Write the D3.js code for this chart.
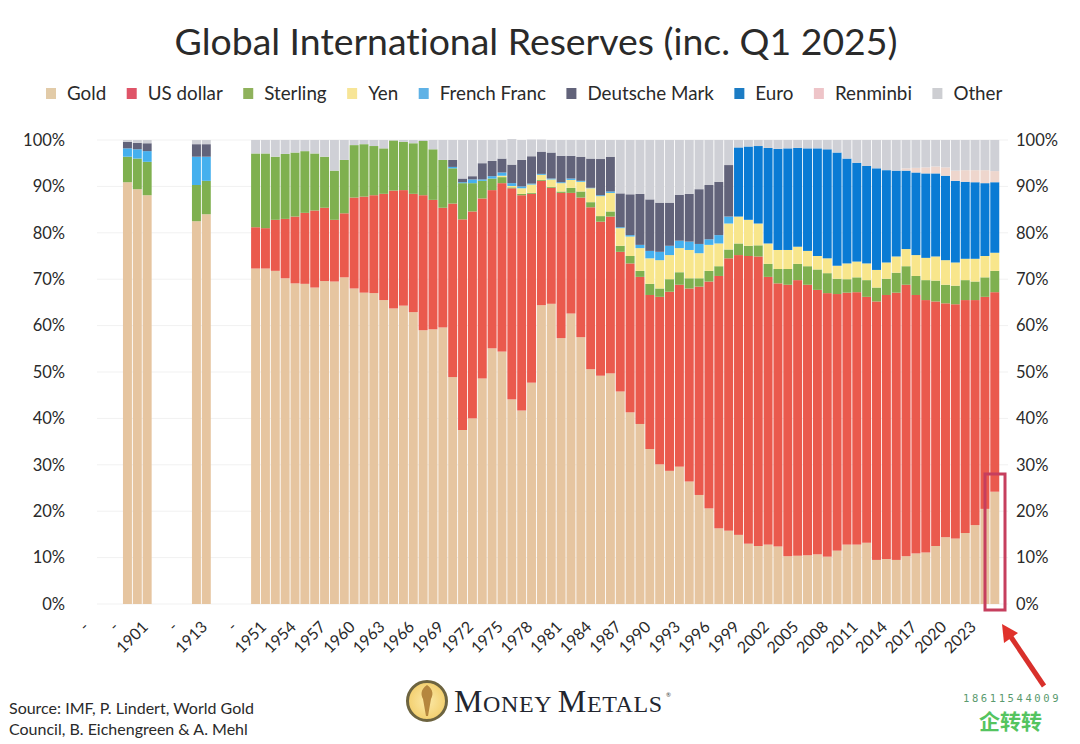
<!DOCTYPE html>
<html>
<head>
<meta charset="utf-8">
<script src="https://cdn.jsdelivr.net/npm/d3@7"></script>
<style>
  html, body { margin: 0; padding: 0; background: #fff; }
  svg { display: block; font-family: Lato, sans-serif; font-variant-ligatures: none; }
</style>
</head>
<body>
<svg id="chart" width="1080" height="744"></svg>
<script>
// empty slots on the axis keep the names gap*, they are labelled "-"
const categories = [
  "gap1","gap2","gap3","gap4","1899","1900","1901","gap5","gap6","gap7","gap8","1912","1913","gap9","gap10","gap11","gap12",
  "1950","1951","1952","1953","1954","1955","1956","1957","1958","1959",
  "1960","1961","1962","1963","1964","1965","1966","1967","1968","1969",
  "1970","1971","1972","1973","1974","1975","1976","1977","1978","1979",
  "1980","1981","1982","1983","1984","1985","1986","1987","1988","1989",
  "1990","1991","1992","1993","1994","1995","1996","1997","1998","1999",
  "2000","2001","2002","2003","2004","2005","2006","2007","2008","2009",
  "2010","2011","2012","2013","2014","2015","2016","2017","2018","2019",
  "2020","2021","2022","2023","2024","2025"
];
const barYears = categories.filter(c => !c.startsWith("gap"));

const gold = [90.9,89.4,88.1,82.5,84,
  72.3,72.3,71.8,70.2,69.1,69,68.2,69.6,69.5,70.4,
  68,67.1,67,65.5,63.7,64.3,62.9,59,59.2,59.6,
  48.9,37.5,40,48.6,55.1,54.4,44.1,41.7,47.7,64.4,
  64.7,57.3,62.6,57.5,50.6,49.2,49.7,45.8,41.3,38.8,
  33.4,30.1,28.7,29.6,26.4,23.5,20.6,16.3,15.8,14.9,
  13,12.5,12.8,12.4,10.3,10.4,10.5,10.7,10.2,11.5,
  12.8,12.8,13.2,9.5,9.7,9.5,10.3,10.9,11.1,12.5,
  14.4,14.1,15.3,17,20.5,24.2];
const usDollar = [0,0,0,0,0,
  8.9,8.7,11,12.8,14.4,15.3,16.6,15.8,13.3,13.8,
  19.6,20.7,21.1,22.9,25.4,24.9,25.5,29.1,27.9,25.8,
  37.4,45.4,44.6,38.8,34.1,36.3,45.5,46.4,40.7,26.8,
  25,31.3,26,30.1,34.9,33.2,33.8,30.1,32.1,31.7,
  33.2,36.1,38.6,39.2,41.6,44.9,48.9,54.4,58.7,60.3,
  62,62.4,57.7,56.7,58.5,59.4,58.3,57,56.8,55.3,
  54.3,54.4,53,55.7,56.9,57.6,58.5,55.7,54.4,52.7,
  50.4,50.5,50.2,48.5,45.7,43];
const sterling = [5.5,6.6,7.2,7.8,7.2,
  15.9,16.1,13.6,14,13.8,13.3,12.3,11,10.6,11.5,
  11.3,11.3,10.6,9.8,10.8,10.4,10.9,11.7,10.9,10.3,
  7.6,7.8,6.1,3.8,2.5,1.3,0.2,0.3,0.2,0.2,
  0.2,0.3,1.1,1.3,1.1,1.2,1.1,1.3,1.6,1.3,
  2.4,1.8,2.7,2.7,2.2,1.8,2.3,2.1,1.9,2.5,
  2.2,2.4,2.8,3.1,3.4,3.5,4,4.4,4.3,3.3,
  2.9,3.2,3.6,3,3.5,4.3,4,4.1,4.3,4.5,
  4,4,4.3,4,4.2,4.6];
const yen = [0,0,0,0,0,
  0,0,0,0,0,0,0,0,0,0,
  0,0,0,0,0,0,0,0,0,0,
  0,0,0,0,0,0.3,0.3,1.2,1.8,1.1,
  1.6,1.8,1.7,2.1,3,4.3,4,3.8,4.2,4.9,
  5.5,6.1,5.2,5.2,6.1,5.4,5.6,4.9,5.6,5.8,
  5.6,4.7,4.4,4.1,4.1,3.7,3.3,2.9,3.2,2.8,
  3.4,3.4,3.6,3.8,3.5,3.5,3.7,4.5,4.8,5.2,
  5.3,5,4.6,4.9,4.6,3.9];
const frenchFranc = [1.8,2,2.3,6.1,5.2,
  0,0,0,0,0,0,0,0,0,0,
  0,0,0,0,0,0,0,0,0,0,
  0.3,0.2,0.8,0.3,0.5,0.7,0.6,0.4,0.2,0.2,
  0.2,0.2,0.3,0.2,0.1,0.2,0.3,0.2,0.3,0.7,
  1.6,1.8,2,1.6,1.8,2,1.2,1.8,1.5,0,
  0,0,0,0,0,0,0,0,0,0,
  0,0,0,0,0,0,0,0,0,0,
  0,0,0,0,0,0];
const deutscheMark = [1.4,1.4,1.7,2.7,2.7,
  0,0,0,0,0,0,0,0,0,0,
  0,0,0,0,0,0,0,0,0,0,
  1.5,0.8,0.7,3.5,3.3,3,4,5.7,5.9,4.8,
  5.6,5.7,4.9,5.2,6.3,7.8,7.5,7.3,8.8,11,
  11.1,10.6,9.3,9.9,10.3,11.8,11.7,11.5,11.1,0,
  0,0,0,0,0,0,0,0,0,0,
  0,0,0,0,0,0,0,0,0,0,
  0,0,0,0,0,0];
const euro = [0,0,0,0,0,
  0,0,0,0,0,0,0,0,0,0,
  0,0,0,0,0,0,0,0,0,0,
  0,0,0,0,0,0,0,0,0,0,
  0,0,0,0,0,0,0,0,0,0,
  0,0,0,0,0,0,0,0,0,14.9,
  15.8,16.7,20.6,21.8,21.9,21.3,22.1,23.2,23.5,24.4,
  22.6,21.3,21,21.9,19.9,18.5,16.9,17.8,18.2,17.9,
  18.2,17.6,16.6,16.5,15.7,15.2];
const renminbi = [0,0,0,0,0,
  0,0,0,0,0,0,0,0,0,0,
  0,0,0,0,0,0,0,0,0,0,
  0,0,0,0,0,0,0,0,0,0,
  0,0,0,0,0,0,0,0,0,0,
  0,0,0,0,0,0,0,0,0,0,
  0,0,0,0,0,0,0,0,0,0,
  0,0,0,0,0,0,0.5,1,1.3,1.5,
  1.8,2.2,2.5,2.6,2.8,2.4];
const other = [0.4,0.6,0.7,0.9,0.9,
  2.9,2.9,3.6,3,2.7,2.4,2.9,3.6,6.6,4.3,
  1.1,0.9,1.3,1.8,0.1,0.4,0.7,0.2,2,4.3,
  4.3,8.3,7.8,5,4.5,4,5.5,4.3,3.6,2.6,
  2.7,3.4,3.4,3.6,4,4.1,3.6,11.5,11.7,11.6,
  12.8,13.5,13.5,11.8,11.6,10.6,9.7,9,5.4,1.6,
  1.4,1.3,1.7,1.9,1.8,1.7,1.8,1.8,2,2.7,
  4,4.9,5.6,6.1,6.5,6.6,6.1,6,5.9,5.7,
  5.9,6.6,6.5,6.5,6.5,6.7];

const seriesNames = ["Gold","US dollar","Sterling","Yen","French Franc","Deutsche Mark","Euro","Renminbi","Other"];
const seriesValues = [gold, usDollar, sterling, yen, frenchFranc, deutscheMark, euro, renminbi, other];
const seriesColors = ["#e6c5a0","#ea5a4d","#7fb04f","#f8e68c","#45b0ee","#62637a","#0a7bd4","#eed6cd","#cfd0d6"];
const legendColors = ["#e2cba8","#df5468","#8fb25c","#f7e597","#5fb2e6","#62637a","#1c7cc4","#eec4c8","#cdced2"];

const rows = barYears.map((year, i) => {
  const row = { year };
  seriesNames.forEach((name, s) => { row[name] = seriesValues[s][i]; });
  return row;
});
const stacked = d3.stack().keys(seriesNames)(rows);

const svg = d3.select("#chart");

const x = d3.scaleBand()
  .domain(categories)
  .range([83.1, 999.7])
  .paddingInner(0.09)
  .paddingOuter(0.045);

const y = d3.scaleLinear().domain([0, 100]).range([604, 140]);

// title
svg.append("text")
  .attr("x", 536).attr("y", 55)
  .attr("text-anchor", "middle")
  .attr("font-size", 37.4)
  .attr("fill", "#2a2a2a")
  .text("Global International Reserves (inc. Q1 2025)");

// legend, flowed from the measured text widths
let legendX = 46;
seriesNames.forEach((name, i) => {
  svg.append("rect")
    .attr("x", legendX).attr("y", 88)
    .attr("width", 10).attr("height", 11)
    .attr("fill", legendColors[i]);
  const label = svg.append("text")
    .attr("x", legendX + 21).attr("y", 100)
    .attr("font-size", 18.8)
    .attr("fill", "#2a2a2a")
    .text(name);
  legendX += 21 + label.node().getComputedTextLength() + 20.5;
});

// gridlines
svg.append("g")
  .selectAll("line")
  .data(y.ticks(10))
  .join("line")
  .attr("x1", 97).attr("x2", 1008)
  .attr("y1", d => y(d)).attr("y2", d => y(d))
  .attr("stroke", "#f1f1f1");

// stacked bars
svg.append("g")
  .style("filter", "blur(0.5px)")
  .selectAll("g")
  .data(stacked)
  .join("g")
  .attr("fill", (d, i) => seriesColors[i])
  .selectAll("rect")
  .data(d => d)
  .join("rect")
  .attr("x", d => x(d.data.year))
  .attr("width", x.bandwidth())
  .attr("y", d => y(d[1]))
  .attr("height", d => y(d[0]) - y(d[1]));

// y axes on both sides
const pct = d => d + "%";
const leftAxis = svg.append("g")
  .attr("transform", "translate(65,0)")
  .call(d3.axisLeft(y).ticks(10).tickFormat(pct).tickSize(0).tickPadding(0));
const rightAxis = svg.append("g")
  .attr("transform", "translate(1016,0)")
  .call(d3.axisRight(y).ticks(10).tickFormat(pct).tickSize(0).tickPadding(0));
[leftAxis, rightAxis].forEach(a => {
  a.select(".domain").remove();
  a.selectAll("text")
    .attr("font-family", "Lato, sans-serif")
    .attr("font-size", 16.5)
    .attr("fill", "#2a2a2a");
});

// x axis, every third slot gets a label
const xAxis = svg.append("g")
  .attr("transform", "translate(0,604)")
  .call(d3.axisBottom(x)
    .tickValues(categories.filter((c, i) => i % 3 === 0))
    .tickFormat(c => c.startsWith("gap") ? "-" : c)
    .tickSize(0));
xAxis.select(".domain").remove();
xAxis.selectAll("text")
  .attr("font-family", "Lato, sans-serif")
  .attr("font-size", 16)
  .attr("fill", "#2a2a2a")
  .attr("text-anchor", "end")
  .attr("dy", 0)
  .attr("y", 0)
  .attr("transform", "translate(2,24) rotate(-45)");

// red highlight on the last bar, and the arrow
svg.append("rect")
  .attr("x", 985).attr("y", 474)
  .attr("width", 20).attr("height", 136)
  .attr("fill", "none")
  .attr("stroke", "#c63f5e")
  .attr("stroke-width", 3);
svg.append("line")
  .attr("x1", 1044).attr("y1", 686)
  .attr("x2", 1011).attr("y2", 637)
  .attr("stroke", "#d8302b")
  .attr("stroke-width", 5);
svg.append("path")
  .attr("d", "M1002,624 L1018,633 L1004,643 Z")
  .attr("fill", "#e0322b");

// source
const source = ["Source: IMF, P. Lindert, World Gold", "Council, B. Eichengreen & A. Mehl"];
svg.append("g")
  .selectAll("text")
  .data(source)
  .join("text")
  .attr("x", 9)
  .attr("y", (d, i) => 714 + i * 21)
  .attr("font-size", 16)
  .attr("fill", "#2a2a2a")
  .text(d => d);

// logo
const defs = svg.append("defs");
const grad = defs.append("radialGradient").attr("id", "logoFill");
grad.append("stop").attr("offset", "0%").attr("stop-color", "#fbe9a8");
grad.append("stop").attr("offset", "100%").attr("stop-color", "#f3cf6e");
svg.append("circle")
  .attr("cx", 427).attr("cy", 701).attr("r", 19.5)
  .attr("fill", "url(#logoFill)")
  .attr("stroke", "#6d6440")
  .attr("stroke-width", 3);
svg.append("path")
  .attr("d", "M427,685 C434,690 433,695 431,699 L428,716 L426,716 L423,699 C421,695 420,690 427,685 Z")
  .attr("fill", "#b5863e");
const logo = svg.append("text")
  .attr("x", 454).attr("y", 712)
  .attr("font-family", "'Liberation Serif', serif")
  .attr("fill", "#23262f")
  .attr("letter-spacing", 0.6);
[["M", 32], ["ONEY ", 24], ["M", 32], ["ETALS", 24]].forEach(([t, size]) => {
  logo.append("tspan").attr("font-size", size).text(t);
});
svg.append("text")
  .attr("x", 666).attr("y", 697)
  .attr("font-size", 6).attr("fill", "#444")
  .text("®");

// watermark
svg.append("text")
  .attr("x", 963).attr("y", 702)
  .attr("font-family", "'DejaVu Sans Mono', monospace")
  .attr("font-size", 10.5)
  .attr("letter-spacing", 2.6)
  .attr("fill", "#5a9a6e")
  .text("18611544009");
svg.append("text")
  .attr("x", 979).attr("y", 729)
  .attr("font-family", "'Noto Sans CJK SC', sans-serif")
  .attr("font-size", 21)
  .attr("font-weight", 700)
  .attr("fill", "#54c45f")
  .text("企转转");
</script>
</body>
</html>
